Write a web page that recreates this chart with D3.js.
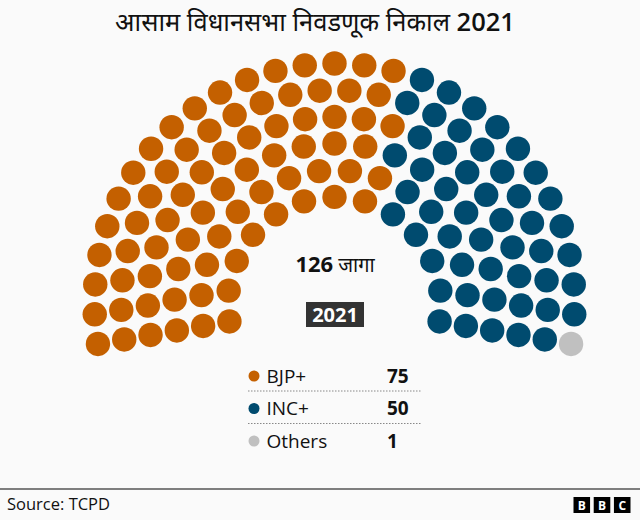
<!DOCTYPE html>
<html>
<head>
<meta charset="utf-8">
<script src="https://cdn.jsdelivr.net/npm/d3@7"></script>
<style>
  html, body { margin: 0; padding: 0; background: #fafafa; }
  svg { display: block; }
  text { font-family: "Open Sans", "Noto Sans", "Noto Sans Devanagari", sans-serif; fill: #111; }
</style>
</head>
<body>
<svg id="chart" width="640" height="520"></svg>
<script>
const titleWords = "आसाम विधानसभा निवडणूक निकाल ";
const titleYear = "2021";
const totalLabel = "126";
const seatWord = "जागा";
const yearLabel = "2021";
const source = "Source: TCPD";
const parties = ["BJP+", "INC+", "Others"];
const seats = [75, 50, 1];
const colours = ["#c46000", "#004b6f", "#c0c0c0"];
const rowSeats = [13, 16, 19, 23, 26, 29];
const logoLetters = ["B", "B", "C"];

const svg = d3.select("#chart");
const width = 640, height = 520;
const cx = 334.5, cy = 303.5;
const dotR = 12.2;

svg.append("rect").attr("width", width).attr("height", height).attr("fill", "#fafafa");

// title
const titleText = svg.append("text")
  .attr("x", 315).attr("y", 31)
  .attr("text-anchor", "middle")
  .style("font-size", "25.5px");
titleText.append("tspan").text(titleWords);
titleText.append("tspan").style("font-weight", 600).text(titleYear);

// rows sit on circles that run a bit below the horizontal
const rowRadius = d3.scaleLinear().domain([0, rowSeats.length - 1]).range([106.6, 240]);
const span = 9.7 * Math.PI / 180;
const maxAngle = Math.PI / 2 + span;

let dots = [];
rowSeats.forEach((n, row) => {
  const angle = d3.scaleLinear().domain([0, n - 1]).range([-maxAngle, maxAngle]);
  d3.range(n).forEach(i => {
    dots.push({ row, a: angle(i), r: rowRadius(row) });
  });
});

// seats fill by angle, left to right. ties go inner row first
const tieKey = d => Math.round(d.a * 1e6);
dots.sort((p, q) => d3.ascending(tieKey(p), tieKey(q)) || d3.ascending(p.r, q.r));
const partyOf = d3.scaleThreshold().domain(d3.cumsum(seats).slice(0, -1)).range(d3.range(parties.length));
dots.forEach((d, i) => { d.party = partyOf(i); });

svg.append("g").selectAll("circle")
  .data(dots)
  .enter()
  .append("circle")
  .attr("cx", d => cx + d.r * Math.sin(d.a))
  .attr("cy", d => cy - d.r * Math.cos(d.a))
  .attr("r", dotR)
  .attr("fill", d => colours[d.party]);

// middle labels
const total = svg.append("text")
  .attr("x", 335).attr("y", 272)
  .attr("text-anchor", "middle");
total.append("tspan").style("font-size", "22px").style("font-weight", 700).text(totalLabel);
total.append("tspan").attr("dx", 5).style("font-size", "20px").text(seatWord);

svg.append("rect")
  .attr("x", 306).attr("y", 302)
  .attr("width", 58).attr("height", 25)
  .attr("fill", "#333");
svg.append("text")
  .attr("x", 335).attr("y", 321.5)
  .attr("text-anchor", "middle")
  .style("font-size", "20px")
  .style("font-weight", 700)
  .style("fill", "#fff")
  .text(yearLabel);

// legend
const legendY = d3.scalePoint().domain(parties).range([376, 441]);
const legend = svg.append("g").selectAll("g")
  .data(parties)
  .enter()
  .append("g")
  .attr("transform", d => `translate(0,${legendY(d)})`);

legend.append("circle")
  .attr("cx", 254).attr("r", 5.5)
  .attr("fill", (d, i) => colours[i]);
legend.append("text")
  .attr("x", 266.5).attr("y", 6.5)
  .style("font-size", "19px")
  .text(d => d);
legend.append("text")
  .attr("x", 387).attr("y", 6.5)
  .style("font-size", "19px")
  .style("font-weight", 700)
  .text((d, i) => seats[i]);
legend.filter((d, i) => i < parties.length - 1)
  .append("line")
  .attr("x1", 248).attr("x2", 422)
  .attr("y1", 15).attr("y2", 15)
  .attr("stroke", "#888")
  .attr("stroke-width", 1)
  .attr("stroke-dasharray", "1.5,1.5");

// footer
svg.append("line")
  .attr("x1", 0).attr("x2", width)
  .attr("y1", 489).attr("y2", 489)
  .attr("stroke", "#555")
  .attr("stroke-width", 1.5);
svg.append("text")
  .attr("x", 7).attr("y", 510)
  .style("font-size", "16.5px")
  .text(source);

const logoX = d3.scaleBand().domain(d3.range(logoLetters.length)).range([573.5, 630.5]).paddingInner(0.18);
const logo = svg.append("g").selectAll("g")
  .data(logoLetters)
  .enter()
  .append("g")
  .attr("transform", (d, i) => `translate(${logoX(i)},497)`);
logo.append("rect")
  .attr("width", logoX.bandwidth()).attr("height", 16)
  .attr("fill", "#000");
logo.append("text")
  .attr("x", logoX.bandwidth() / 2).attr("y", 12.5)
  .attr("text-anchor", "middle")
  .style("font-size", "12px")
  .style("font-weight", 700)
  .style("fill", "#fff")
  .text(d => d);
</script>
</body>
</html>
